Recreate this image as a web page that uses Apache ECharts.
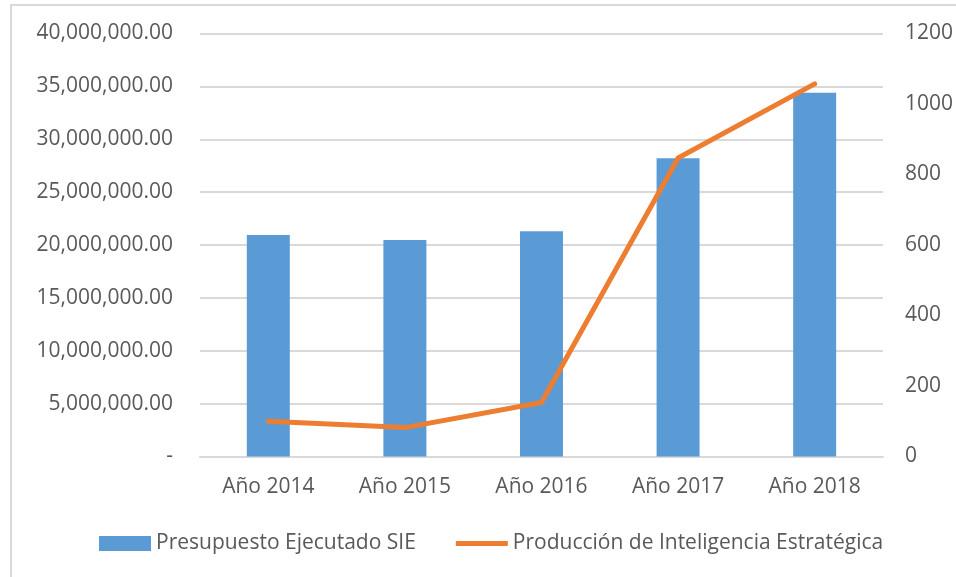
<!DOCTYPE html>
<html>
<head>
<meta charset="utf-8">
<script src="https://cdn.jsdelivr.net/npm/echarts@6/dist/echarts.min.js"></script>
<style>
  html, body { margin: 0; padding: 0; background: #fff; }
  #frame {
    position: absolute; left: 10px; top: 4px; width: 980px; height: 600px;
    border-left: 2px solid #d9d9d9; border-top: 2px solid #d9d9d9;
  }
  #main { position: absolute; left: 0; top: 0; width: 956px; height: 577px; }
</style>
</head>
<body>
<div id="frame"></div>
<div id="main"></div>
<script>
var years = ['Año 2014', 'Año 2015', 'Año 2016', 'Año 2017', 'Año 2018']
var presupuesto = [20950000, 20470000, 21300000, 28200000, 34400000]
var produccion = [100, 82, 153, 847, 1057]
var leftTicks = { min: 0, max: 40000000, interval: 5000000 }
var rightTicks = { min: 0, max: 1200, interval: 200 }

var fontFam = '"Open Sans", "Liberation Sans", sans-serif'
var textColor = '#595959'
var fs = 21

function money (v) {
  if (v === 0) return '-'
  return v.toLocaleString('en-US', { minimumFractionDigits: 2, maximumFractionDigits: 2 })
}

var myChart = echarts.init(document.getElementById('main'))
var option = {
  animation: false,
  textStyle: { fontFamily: fontFam },
  grid: { left: 200, right: 73, top: 33.5, bottom: 120.5 },
  legend: {
    left: 94,
    top: 528,
    itemWidth: 52,
    itemHeight: 15,
    itemGap: 40,
    textStyle: { color: textColor, fontSize: fs, fontFamily: fontFam },
    data: [
      { name: 'Presupuesto Ejecutado SIE', icon: 'rect' },
      { name: 'Producción de Inteligencia Estratégica', icon: 'path://M0,0 L52,0 L52,5 L0,5 Z' }
    ]
  },
  xAxis: {
    type: 'category',
    data: years,
    axisTick: { show: false },
    axisLine: { lineStyle: { color: '#d9d9d9', width: 2 } },
    axisLabel: { color: textColor, fontSize: fs, margin: 20 }
  },
  yAxis: [
    {
      type: 'value',
      min: leftTicks.min,
      max: leftTicks.max,
      interval: leftTicks.interval,
      axisLine: { show: false },
      axisTick: { show: false },
      splitLine: { lineStyle: { color: '#d9d9d9', width: 2 } },
      axisLabel: { color: textColor, fontSize: fs, margin: 27, formatter: money }
    },
    {
      type: 'value',
      min: rightTicks.min,
      max: rightTicks.max,
      interval: rightTicks.interval,
      position: 'right',
      axisLine: { show: false },
      axisTick: { show: false },
      splitLine: { show: false },
      axisLabel: { color: textColor, fontSize: fs, margin: 22, formatter: function (v) { return String(v) } }
    }
  ],
  series: [
    {
      name: 'Presupuesto Ejecutado SIE',
      type: 'bar',
      yAxisIndex: 0,
      barWidth: 43,
      itemStyle: { color: '#5b9bd5' },
      data: presupuesto
    },
    {
      name: 'Producción de Inteligencia Estratégica',
      type: 'line',
      yAxisIndex: 1,
      symbol: 'none',
      lineStyle: { color: '#ed7d31', width: 5, cap: 'round', join: 'round' },
      itemStyle: { color: '#ed7d31' },
      data: produccion
    }
  ]
}
myChart.setOption(option, true)
</script>
</body>
</html>
